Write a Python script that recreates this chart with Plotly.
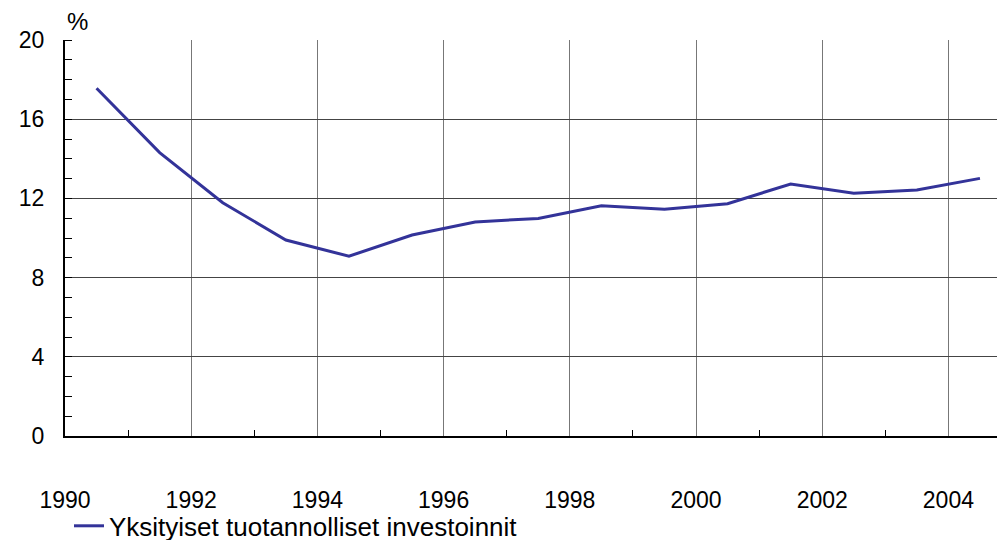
import plotly.graph_objects as go

years = [1990.5, 1991.5, 1992.5, 1993.5, 1994.5, 1995.5, 1996.5, 1997.5,
         1998.5, 1999.5, 2000.5, 2001.5, 2002.5, 2003.5, 2004.5]
values = [17.56, 14.31, 11.78, 9.9, 9.08, 10.15, 10.81, 10.99,
          11.63, 11.45, 11.73, 12.73, 12.26, 12.42, 13.01]
series_name = "Yksityiset tuotannolliset investoinnit"
x_tickvals = [1990, 1992, 1994, 1996, 1998, 2000, 2002, 2004]
x_ticktext = ["1990", "1992", "1994", "1996", "1998", "2000", "2002", "2004"]
x_minor = [1991, 1993, 1995, 1997, 1999, 2001, 2003]
y_tickvals = [0, 4, 8, 12, 16, 20]

FONT = "Liberation Sans, Arial, sans-serif"

fig = go.Figure()
fig.add_trace(go.Scatter(
    x=years, y=values, mode="lines", name=series_name,
    line=dict(color="#333399", width=3),
))

fig.update_layout(
    width=1000, height=540,
    margin=dict(l=65, r=3, t=40, b=104, autoexpand=False),
    paper_bgcolor="white", plot_bgcolor="white",
    font=dict(family=FONT, size=23, color="black"),
    showlegend=True,
    legend=dict(orientation="h", xref="container", yref="paper",
                x=0.069, y=-0.227, xanchor="left", yanchor="middle",
                font=dict(size=26), bgcolor="rgba(0,0,0,0)"),
    annotations=[dict(text="%", xref="paper", yref="paper", x=0.0, y=1.0,
                      xanchor="left", yanchor="bottom", yshift=3, showarrow=False,
                      font=dict(size=24))],
)

fig.update_xaxes(
    range=[1990, 2004.77], tickvals=x_tickvals, ticktext=x_ticktext,
    showgrid=True, gridcolor="#777777", gridwidth=1,
    showline=True, linecolor="black", linewidth=2,
    ticks="", ticklabelstandoff=42, zeroline=False, automargin=False,
    minor=dict(tickvals=x_minor, ticks="inside", ticklen=6, tickcolor="black", showgrid=False),
)
fig.update_yaxes(
    range=[0, 20], tickvals=y_tickvals,
    showgrid=True, gridcolor="#444444", gridwidth=1,
    showline=True, linecolor="black", linewidth=2,
    ticks="", ticklabelstandoff=14, zeroline=False, automargin=False,
    minor=dict(dtick=1, ticks="inside", ticklen=7, tickcolor="black", showgrid=False),
)

fig.write_html("out.html", config={"displayModeBar": False},
               post_script="document.body.style.margin='0';")
